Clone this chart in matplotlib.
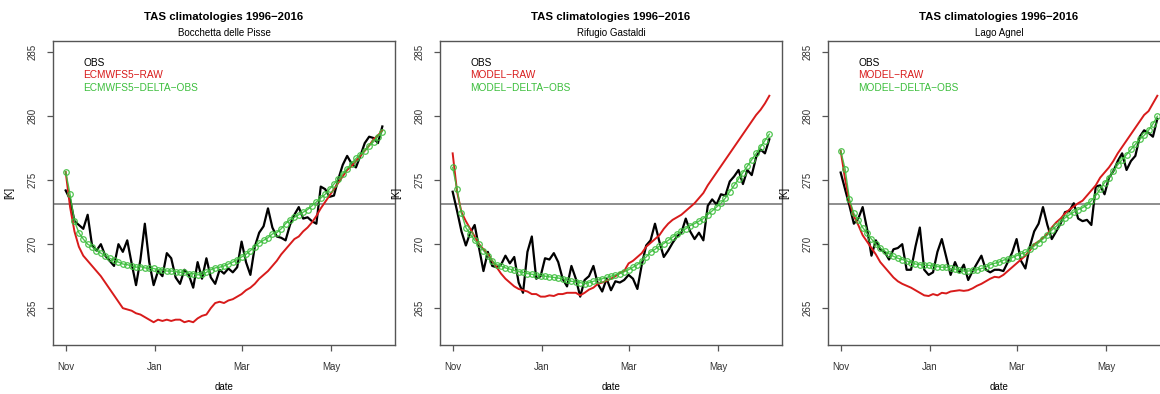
import matplotlib
matplotlib.use("Agg")
import matplotlib.pyplot as plt

plt.rcParams['font.family'] = ['Liberation Sans', 'DejaVu Sans']

# ---------------- data ----------------
days = list(range(0, 217, 3))  # days since 1 Nov
tick_days = [0, 61, 120, 181]
tick_labels = ["Nov", "Jan", "Mar", "May"]
y_ticks = [265, 270, 275, 280, 285]
freezing = 273.15

titles = ["TAS climatologies 1996\u22122016"] * 3
stations = ["Bocchetta delle Pisse", "Rifugio Gastaldi", "Lago Agnel"]
legend_labels = [
    ["OBS", "ECMWFS5\u2212RAW", "ECMWFS5\u2212DELTA\u2212OBS"],
    ["OBS", "MODEL\u2212RAW", "MODEL\u2212DELTA\u2212OBS"],
    ["OBS", "MODEL\u2212RAW", "MODEL\u2212DELTA\u2212OBS"],
]

obs_1 = [274.2, 273.5, 271.8, 271.5, 271.2, 272.3, 269.9, 269.5, 270.0, 269.1,
         268.7, 268.3, 270.0, 269.4, 270.3, 268.5, 266.8, 268.8, 271.6, 268.6,
         266.8, 267.9, 267.5, 269.3, 268.9, 267.4, 266.9, 268.0, 267.6, 266.6,
         268.6, 267.3, 268.9, 267.4, 266.9, 268.0, 267.7, 268.1, 267.8, 268.2,
         270.2, 268.6, 267.6, 269.8, 270.9, 271.4, 272.8, 271.3, 270.6, 270.5,
         270.3, 271.5, 272.3, 272.9, 272.0, 272.1, 271.8, 271.6, 274.5, 274.3,
         273.7, 273.8, 275.1, 276.2, 276.9, 276.3, 276.0, 276.9, 277.9, 278.4,
         278.3, 277.9, 279.2]
raw_1 = [275.65, 272.9, 271.0, 269.8, 269.1, 268.7, 268.3, 267.9, 267.5, 267.0,
         266.5, 266.0, 265.5, 265.0, 264.9, 264.8, 264.6, 264.5, 264.3, 264.1,
         263.9, 264.1, 264.0, 264.1, 264.0, 264.1, 264.1, 263.9, 264.0, 263.9,
         264.2, 264.4, 264.5, 265.0, 265.4, 265.5, 265.4, 265.6, 265.7, 265.9,
         266.1, 266.4, 266.6, 266.9, 267.3, 267.6, 267.9, 268.3, 268.7, 269.2,
         269.6, 270.0, 270.4, 270.6, 271.0, 271.3, 271.7, 272.2, 272.8, 273.3,
         273.8, 274.3, 274.8, 275.3, 275.8, 276.1, 276.5, 276.9, 277.3, 277.7,
         278.2, 278.5, 278.9]
delta_1 = [275.65, 273.9, 271.8, 270.9, 270.4, 270.0, 269.8, 269.5, 269.3, 269.1,
           268.9, 268.75, 268.6, 268.45, 268.4, 268.3, 268.2, 268.25, 268.15, 268.1,
           268.1, 268.0, 268.0, 267.9, 267.9, 267.85, 267.8, 267.8, 267.7, 267.7,
           267.6, 267.65, 267.8, 268.0, 268.15, 268.2, 268.3, 268.45, 268.6, 268.8,
           269.0, 269.2, 269.5, 269.8, 270.1, 270.3, 270.5, 270.8, 270.9, 271.2,
           271.6, 271.9, 272.1, 272.3, 272.5, 272.7, 273.0, 273.3, 273.6, 273.9,
           274.3, 274.7, 275.1, 275.5, 275.9, 276.3, 276.7, 277.0, 277.3, 277.7,
           278.0, 278.4, 278.8]

obs_2 = [274.1, 272.6, 271.0, 269.9, 270.9, 271.5, 269.7, 267.9, 269.4, 268.3,
         268.2, 268.4, 269.1, 268.5, 269.0, 267.0, 266.2, 269.4, 270.6, 267.3,
         267.5, 268.9, 268.8, 269.3, 268.6, 267.3, 266.7, 268.3, 267.3, 265.9,
         267.2, 267.5, 268.3, 266.9, 266.3, 267.3, 266.4, 267.1, 267.0, 267.2,
         267.6, 267.3, 266.5, 268.4, 269.9, 270.3, 271.6, 270.2, 269.0, 269.5,
         270.1, 270.6, 270.9, 272.0, 271.0, 270.4, 270.9, 270.3, 273.0, 273.5,
         273.1, 273.9, 273.8, 274.9, 275.3, 275.8, 274.7, 275.8, 275.4, 276.8,
         277.4, 277.1, 278.2]
raw_2 = [277.1, 274.1, 272.5, 271.8, 271.2, 270.6, 270.0, 269.6, 269.2, 268.7,
         268.2, 267.7, 267.3, 267.0, 266.7, 266.5, 266.4, 266.3, 266.1, 266.1,
         265.9, 265.9, 266.0, 265.95, 266.1, 266.1, 266.2, 266.2, 266.2, 266.0,
         266.2, 266.45, 266.6, 266.9, 267.0, 267.15, 267.3, 267.5, 267.75, 267.9,
         268.5, 268.7, 269.0, 269.3, 269.8, 270.1, 270.4, 270.7, 271.2, 271.6,
         271.9, 272.1, 272.3, 272.6, 272.9, 273.2, 273.6, 274.0, 274.6, 275.1,
         275.6, 276.1, 276.6, 277.1, 277.6, 278.1, 278.6, 279.1, 279.6, 280.1,
         280.5, 281.0, 281.6]
delta_2 = [276.0, 274.3, 272.4, 271.3, 270.8, 270.3, 270.0, 269.5, 269.1, 268.7,
           268.4, 268.3, 268.15, 268.05, 267.95, 267.85, 267.8, 267.7, 267.65, 267.6,
           267.55, 267.5, 267.45, 267.4, 267.35, 267.3, 267.2, 267.1, 267.05, 267.0,
           266.9, 267.0, 267.1, 267.2, 267.3, 267.4, 267.5, 267.6, 267.7, 267.85,
           268.0, 268.2, 268.4, 268.7, 269.0, 269.4, 269.6, 269.85, 270.05, 270.3,
           270.55, 270.8, 271.0, 271.2, 271.45, 271.6, 271.8, 272.0, 272.3, 272.6,
           272.9, 273.2, 273.6, 274.1, 274.6, 275.1, 275.6, 276.1, 276.6, 277.1,
           277.6, 278.1, 278.6]

obs_3 = [275.6, 274.3, 273.0, 271.6, 272.0, 272.9, 271.2, 269.1, 270.3, 269.6,
         269.4, 268.8, 269.6, 269.7, 270.0, 268.0, 268.0, 269.8, 271.3, 268.0,
         267.6, 267.8, 269.4, 270.4, 269.0, 267.6, 268.6, 267.8, 268.4, 267.2,
         267.9, 268.5, 269.1, 268.0, 267.8, 268.0, 268.0, 267.9, 268.6, 269.35,
         270.4, 268.7, 268.1, 269.8, 271.0, 271.6, 272.9, 271.5, 270.4, 271.0,
         271.6, 272.5, 272.6, 273.2, 272.0, 271.8, 271.9, 271.5, 274.5, 274.6,
         273.9, 275.2, 275.7, 276.5, 277.1, 275.8, 276.5, 276.9, 278.4, 278.9,
         278.7, 278.4, 279.8]
raw_3 = [277.3, 275.1, 273.3, 272.2, 271.5, 270.7, 270.2, 269.7, 269.2, 268.6,
         268.2, 267.8, 267.4, 267.1, 266.9, 266.75, 266.6, 266.4, 266.2, 266.0,
         265.95, 266.1, 266.0, 266.2, 266.15, 266.3, 266.35, 266.4, 266.35, 266.4,
         266.55, 266.75, 266.9, 267.1, 267.3, 267.45, 267.4, 267.6, 267.9, 268.2,
         268.5, 268.8, 269.1, 269.5, 270.0, 270.2, 270.5, 270.8, 271.3, 271.7,
         272.0, 272.4, 272.7, 272.95, 273.2, 273.4, 273.8, 274.2, 274.6, 275.2,
         275.6, 276.0, 276.5, 277.1, 277.6, 278.1, 278.6, 279.1, 279.6, 280.1,
         280.4, 281.0, 281.6]
delta_3 = [277.3, 275.9, 273.5, 272.4, 271.9, 271.3, 270.85, 270.4, 270.0, 269.7,
           269.45, 269.25, 269.05, 268.9, 268.8, 268.7, 268.55, 268.45, 268.4, 268.35,
           268.35, 268.3, 268.25, 268.2, 268.2, 268.1, 268.05, 268.0, 267.9, 267.9,
           267.95, 268.0, 268.1, 268.2, 268.4, 268.5, 268.6, 268.75, 268.85, 268.95,
           269.1, 269.25, 269.35, 269.6, 269.85, 270.1, 270.4, 270.7, 271.1, 271.4,
           271.7, 272.05, 272.3, 272.5, 272.7, 272.85, 273.05, 273.4, 273.8, 274.3,
           274.8, 275.2, 275.7, 276.2, 276.6, 277.0, 277.4, 277.8, 278.2, 278.5,
           278.9, 279.4, 280.0]

obs_all = [obs_1, obs_2, obs_3]
raw_all = [raw_1, raw_2, raw_3]
delta_all = [delta_1, delta_2, delta_3]

# ---------------- style ----------------
W, H = 1160, 394
RED = '#D81B1B'
GREEN = '#3DBE3D'
FRAME = '#555555'
lefts_px = [53, 440, 828]
width_px, top_px, bottom_px = 342, 41, 345

fig = plt.figure(figsize=(W / 100, H / 100), dpi=100)

span = days[-1] - days[0]
xlim = (days[0] - 0.04 * span, days[-1] + 0.04 * span)
ylo, yhi = 263, 285
ylim = (ylo - 0.04 * (yhi - ylo), yhi + 0.04 * (yhi - ylo))

for i in range(3):
    l = lefts_px[i]
    ax = fig.add_axes([l / W, 1 - bottom_px / H, width_px / W, (bottom_px - top_px) / H])
    ax.axhline(freezing, color='#7a7a7a', lw=1.2, zorder=1)
    ax.plot(days, obs_all[i], color='black', lw=1.6, zorder=2)
    ax.plot(days, raw_all[i], color=RED, lw=1.4, zorder=3)
    ax.plot(days, delta_all[i], color=GREEN, lw=1.0, marker='o', ms=4.0,
            mfc='none', mec=GREEN, mew=0.9, alpha=0.9, zorder=4)
    ax.set_xlim(*xlim)
    ax.set_ylim(*ylim)
    ax.set_xticks(tick_days)
    ax.set_xticklabels(tick_labels)
    ax.set_yticks(y_ticks)
    ax.set_yticklabels([str(v) for v in y_ticks], rotation=90, va='center')
    ax.tick_params(axis='both', direction='out', length=4, width=0.9,
                   color=FRAME, labelsize=7, labelcolor='#333333')
    ax.tick_params(axis='x', pad=8)
    ax.tick_params(axis='y', pad=7)
    for s in ax.spines.values():
        s.set_color(FRAME)
        s.set_linewidth(1.0)
    cols = ['black', RED, GREEN]
    for k, lab in enumerate(legend_labels[i]):
        ax.text(0.088, 0.928 - k * 0.041, lab, transform=ax.transAxes,
                color=cols[k], fontsize=7.3, va='center', ha='left')
    cx = (l + width_px / 2) / W
    fig.text(cx, 1 - 17 / H, titles[i], ha='center', va='center',
             fontsize=8.2, fontweight='bold')
    fig.text(cx, 1 - 33 / H, stations[i], ha='center', va='center', fontsize=7)
    fig.text(cx, 1 - 387 / H, "date", ha='center', va='center', fontsize=7)
    fig.text((l - 44) / W, 1 - 193 / H, "[K]", ha='center', va='center',
             fontsize=7, rotation=90)

fig.savefig("out.png", dpi=100)
